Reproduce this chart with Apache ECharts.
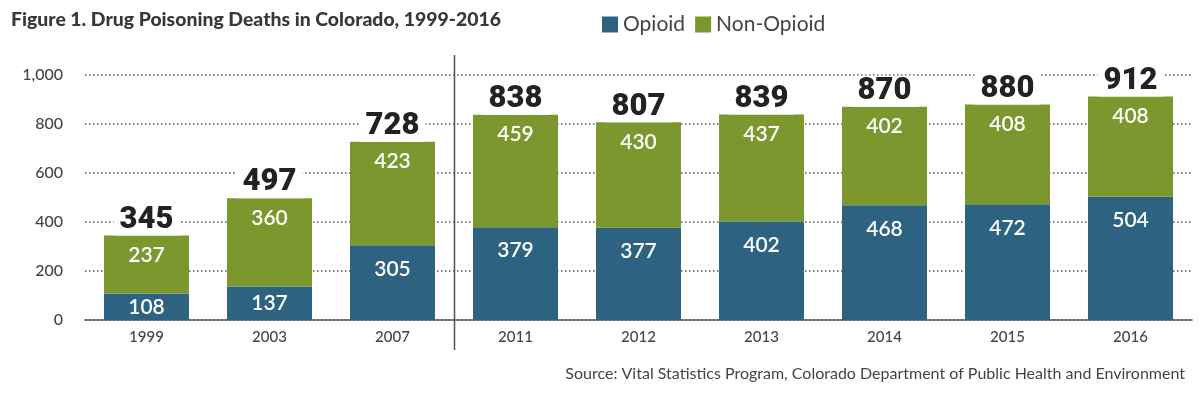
<!DOCTYPE html>
<html>
<head>
<meta charset="utf-8">
<script src="https://cdn.jsdelivr.net/npm/echarts@6/dist/echarts.min.js"></script>
<style>
  html, body { margin: 0; padding: 0; background: #fff; }
  #chart { width: 1200px; height: 394px; }
</style>
</head>
<body>
<div id="chart"></div>
<script>
// ---- Data ----
const years = ['1999', '2003', '2007', '2011', '2012', '2013', '2014', '2015', '2016'];
const opioid = [108, 137, 305, 379, 377, 402, 468, 472, 504];
const nonOpioid = [237, 360, 423, 459, 430, 437, 402, 408, 408];
const totals = [345, 497, 728, 838, 807, 839, 870, 880, 912];
const yTicks = [0, 200, 400, 600, 800, 1000];

const titleText = 'Figure 1. Drug Poisoning Deaths in Colorado, 1999-2016';
const sourceText = 'Source: Vital Statistics Program, Colorado Department of Public Health and Environment';

const BLUE = '#2d6381';
const GREEN = '#7b972e';
const TEXT = '#444444';
const FONT = 'Lato, "Open Sans", sans-serif';

const chart = echarts.init(document.getElementById('chart'), null, { renderer: 'canvas' });

const option = {
  animation: false,
  backgroundColor: '#ffffff',
  textStyle: { fontFamily: FONT },
  title: {
    text: titleText,
    left: 6,
    top: 5,
    textStyle: { fontFamily: FONT, fontSize: 19.4, fontWeight: 900, color: '#383838' }
  },
  legend: {
    left: 597,
    top: 9,
    icon: 'rect',
    itemWidth: 16,
    itemHeight: 16,
    itemGap: 10,
    textStyle: { fontFamily: FONT, fontSize: 21, color: TEXT },
    data: ['Opioid', 'Non-Opioid']
  },
  grid: { left: 85, right: 8, top: 75, bottom: 74, containLabel: false },
  xAxis: {
    type: 'category',
    data: years,
    axisLine: { show: true, lineStyle: { color: '#555', width: 1.5 } },
    axisTick: { show: false },
    axisLabel: { color: TEXT, fontSize: 15, margin: 10, fontFamily: FONT, fontWeight: 500 }
  },
  yAxis: {
    type: 'value',
    min: yTicks[0],
    max: yTicks[yTicks.length - 1],
    interval: 200,
    axisLine: { show: false },
    axisTick: { show: false },
    axisLabel: {
      color: TEXT, fontSize: 16, margin: 22, fontFamily: FONT, fontWeight: 500,
      formatter: v => v.toLocaleString('en-US')
    },
    splitLine: { show: true, lineStyle: { color: '#555', width: 1.5, type: [1.5, 2.5] } }
  },
  series: [
    {
      name: 'Opioid',
      type: 'bar',
      stack: 'total',
      barWidth: 85,
      itemStyle: { color: BLUE },
      label: {
        show: true, color: '#fff', fontSize: 21, fontWeight: 600, fontFamily: FONT,
        distance: 13
      },
      data: opioid.map(v => ({ value: v, label: { position: v < 200 ? 'inside' : 'insideTop' } }))
    },
    {
      name: 'Non-Opioid',
      type: 'bar',
      stack: 'total',
      barWidth: 85,
      itemStyle: { color: GREEN },
      label: {
        show: true, position: 'insideTop', distance: 9, color: '#fff',
        fontSize: 21, fontWeight: 600, fontFamily: FONT
      },
      data: nonOpioid
    },
    {
      name: 'Total',
      type: 'scatter',
      data: totals,
      symbolSize: 0,
      itemStyle: { color: '#222', opacity: 1 },
      silent: true,
      z: 5,
      label: {
        show: true, position: 'top', distance: 0,
        color: '#222', opacity: 1, fontSize: 31, fontWeight: 900, fontFamily: 'Roboto, sans-serif',
        backgroundColor: '#fff', padding: [0, 6, 0, 6]
      }
    }
  ]
};

chart.setOption(option);

// separator line between 2007 and 2011 (category boundary) + source text
const xa = chart.convertToPixel({ xAxisIndex: 0 }, years[2]);
const xb = chart.convertToPixel({ xAxisIndex: 0 }, years[3]);
const sepX = Math.round((xa + xb) / 2) + 0.5;
chart.setOption({
  graphic: [
    {
      type: 'line',
      shape: { x1: sepX, y1: 55, x2: sepX, y2: 350 },
      style: { stroke: '#555', lineWidth: 1.5 },
      z: 10
    },
    {
      type: 'text',
      right: 15,
      top: 366,
      style: { text: sourceText, fill: TEXT, font: '16px ' + FONT }
    }
  ]
});
</script>
</body>
</html>
